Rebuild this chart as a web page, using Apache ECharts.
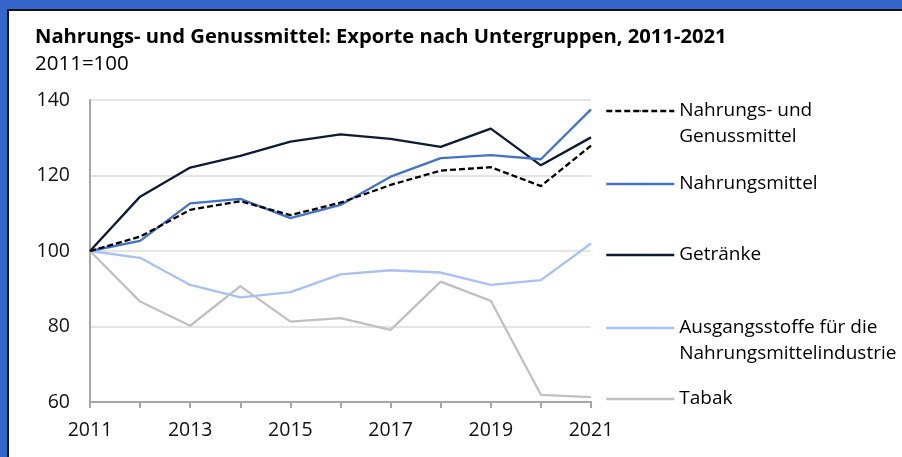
<!DOCTYPE html>
<html>
<head>
<meta charset="utf-8">
<script src="https://cdn.jsdelivr.net/npm/echarts@6/dist/echarts.min.js"></script>
<style>
  html, body { margin: 0; padding: 0; }
  #chart { width: 902px; height: 457px; }
</style>
</head>
<body>
<div id="chart"></div>
<script>
// Jahre (x-Achse)
const years = ['2011', '2012', '2013', '2014', '2015', '2016', '2017', '2018', '2019', '2020', '2021']
const yTicks = [60, 80, 100, 120, 140]

// Indexwerte 2011=100
const nahrungUndGenuss = [100, 103.8, 110.9, 113.2, 109.5, 112.8, 117.5, 121.3, 122.2, 117.2, 127.9]
const nahrungsmittel = [100, 102.7, 112.6, 113.8, 108.7, 112.2, 119.7, 124.6, 125.4, 124.3, 137.5]
const getraenke = [100, 114.4, 122.1, 125.2, 129.0, 130.9, 129.7, 127.6, 132.4, 122.7, 130.1]
const ausgangsstoffe = [100, 98.2, 91.0, 87.7, 89.1, 93.8, 94.9, 94.3, 91.0, 92.3, 102.0]
const tabak = [100, 86.6, 80.2, 90.7, 81.3, 82.2, 79.1, 91.9, 86.8, 61.9, 61.3]

const font = 'Open Sans'
const chart = echarts.init(document.getElementById('chart'))

// Legendentexte mit Zeilenumbruch wie im Original
// (leere erste Zeile, damit die erste Textzeile auf Höhe der Linie liegt)
const legendLabels = {
  'Nahrungs- und Genussmittel': ' \nNahrungs- und\nGenussmittel',
  'Ausgangsstoffe für die Nahrungsmittelindustrie': ' \nAusgangsstoffe für die\nNahrungsmittelindustrie'
}

function legendFor(name, top) {
  return {
    data: [name],
    left: 605,
    top: top,
    padding: 0,
    itemWidth: 68,
    itemHeight: 2,
    lineStyle: { width: 2.5 },
    formatter: n => legendLabels[n] || n,
    textStyle: {
      fontFamily: font,
      fontSize: 19,
      lineHeight: 26,
      color: '#000'
    }
  }
}

function lineSeries(name, data, color, type) {
  return {
    name: name,
    type: 'line',
    data: data,
    symbol: 'none',
    lineStyle: { color: color, width: 2.3, type: type || 'solid' },
    itemStyle: { color: color },
    emphasis: { disabled: true }
  }
}

const option = {
  backgroundColor: '#3467c9',
  animation: false,
  graphic: [{
    type: 'rect',
    shape: { x: 8, y: 10, width: 900, height: 450 },
    style: { fill: '#fff', stroke: '#111', lineWidth: 2 },
    z: -10
  }],
  title: {
    text: 'Nahrungs- und Genussmittel: Exporte nach Untergruppen, 2011-2021',
    subtext: '2011=100',
    left: 35,
    top: 26,
    padding: 0,
    itemGap: 5,
    textStyle: { fontFamily: font, fontSize: 20.2, lineHeight: 22, fontWeight: 'bold', color: '#000' },
    subtextStyle: { fontFamily: font, fontSize: 20.5, lineHeight: 22, color: '#000' }
  },
  legend: [
    legendFor('Nahrungs- und Genussmittel', 72),
    legendFor('Nahrungsmittel', 171),
    legendFor('Getränke', 242),
    legendFor('Ausgangsstoffe für die Nahrungsmittelindustrie', 289),
    legendFor('Tabak', 386)
  ],
  grid: { left: 90, right: 311, top: 100, bottom: 55 },
  xAxis: {
    type: 'category',
    data: years,
    boundaryGap: false,
    axisLine: { lineStyle: { color: '#a6a6a6', width: 2 } },
    axisTick: { show: true, interval: 0, length: 6, lineStyle: { color: '#a6a6a6', width: 2 } },
    axisLabel: { interval: 1, margin: 18, fontFamily: font, fontSize: 19.5, color: '#111' }
  },
  yAxis: {
    type: 'value',
    min: yTicks[0],
    max: yTicks[yTicks.length - 1],
    interval: 20,
    axisLine: { show: true, lineStyle: { color: '#a6a6a6', width: 2 } },
    axisTick: { show: false },
    splitLine: { lineStyle: { color: '#dcdcdc', width: 1.5 } },
    axisLabel: { margin: 20, fontFamily: font, fontSize: 19.5, color: '#111' }
  },
  series: [
    lineSeries('Tabak', tabak, '#c0c0c0'),
    lineSeries('Ausgangsstoffe für die Nahrungsmittelindustrie', ausgangsstoffe, '#a9c1ee'),
    lineSeries('Getränke', getraenke, '#0e1a33'),
    lineSeries('Nahrungsmittel', nahrungsmittel, '#4472c4'),
    lineSeries('Nahrungs- und Genussmittel', nahrungUndGenuss, '#000', [6, 3])
  ]
}

chart.setOption(option)
</script>
</body>
</html>
